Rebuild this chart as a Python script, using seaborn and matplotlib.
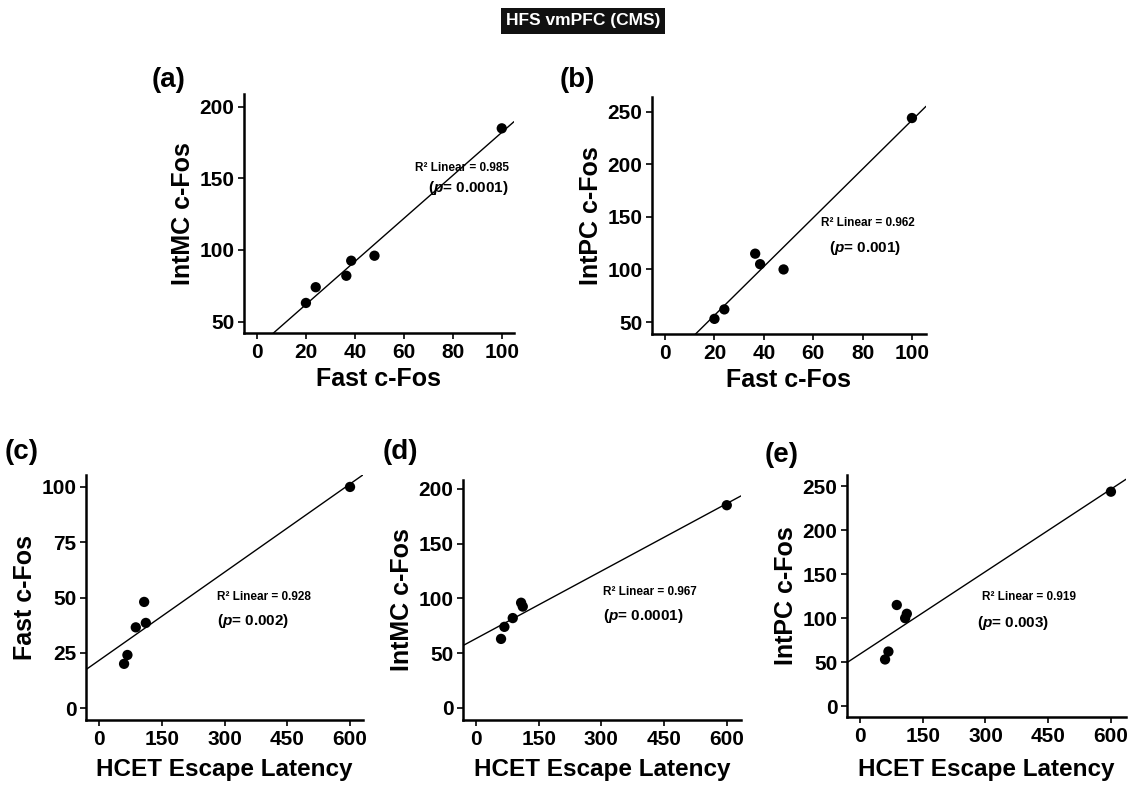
import numpy as np
import matplotlib
matplotlib.use("Agg")
import matplotlib.pyplot as plt
import seaborn as sns

# six animals, values
fast_cfos = [20, 24, 36.5, 38.5, 48, 100]
intmc_cfos = [63, 74, 82, 92.5, 96, 185]
intpc_cfos = [53, 62, 115, 105, 100, 244]
hcet_latency = [60, 68, 88, 112, 108, 600]

r2_text = ["0.985", "0.962", "0.928", "0.967", "0.919"]
p_text = ["0.0001", "0.001", "0.002", "0.0001", "0.003"]

sns.set_style("ticks")
plt.rcParams['font.family'] = ['Liberation Sans', 'DejaVu Sans']
plt.rcParams['font.weight'] = 'bold'
plt.rcParams['mathtext.fontset'] = 'custom'
plt.rcParams['mathtext.it'] = 'Liberation Sans:italic:bold'
plt.rcParams['mathtext.rm'] = 'Liberation Sans:bold'
for k in ['text.color', 'axes.labelcolor', 'xtick.color', 'ytick.color']:
    plt.rcParams[k] = 'black'

W, H = 1134, 785
fig = plt.figure(figsize=(W / 100, H / 100), dpi=100)


def make_ax(l, r, t, b):
    return fig.add_axes([l / W, 1 - b / H, (r - l) / W, (b - t) / H])


panels = [
    # label, x, y, xlabel, ylabel, box px, xlim, ylim, xticks, yticks, text pos
    ("(a)", fast_cfos, intmc_cfos, "Fast c-Fos", "IntMC c-Fos",
     (244, 514, 94, 333), (-5.3, 105), (42, 209),
     range(0, 101, 20), range(50, 201, 50), (0.633, 0.69), (0.68, 0.607), 4, 18),
    ("(b)", fast_cfos, intpc_cfos, "Fast c-Fos", "IntPC c-Fos",
     (652, 926, 97, 334), (-5.3, 105.7), (38.6, 264),
     range(0, 101, 20), range(50, 251, 50), (0.617, 0.468), (0.646, 0.363), 4, 18),
    ("(c)", hcet_latency, fast_cfos, "HCET Escape Latency", "Fast c-Fos",
     (86, 363, 475, 720), (-31, 631), (-5.4, 105.4),
     range(0, 601, 150), range(0, 101, 25), (0.473, 0.50), (0.473, 0.404), 7, 17.5),
    ("(d)", hcet_latency, intmc_cfos, "HCET Escape Latency", "IntMC c-Fos",
     (463, 741, 480, 720), (-31, 634), (-11, 208),
     range(0, 601, 150), range(0, 201, 50), (0.504, 0.533), (0.504, 0.433), 7, 17.5),
    ("(e)", hcet_latency, intpc_cfos, "HCET Escape Latency", "IntPC c-Fos",
     (847, 1126, 475, 717), (-31, 636), (-12.5, 263),
     range(0, 601, 150), range(0, 251, 50), (0.484, 0.496), (0.466, 0.388), 9, 17.5),
]

for i, (lab, x, y, xl, yl, box, xlim, ylim, xt, yt, rpos, ppos, xpad, xfs) in enumerate(panels):
    ax = make_ax(*box)
    ax.set_xlim(xlim)
    ax.set_ylim(ylim)
    sns.regplot(x=np.array(x), y=np.array(y), ax=ax, ci=None, truncate=False,
                scatter_kws=dict(s=55, color="black", edgecolor="none", alpha=1, zorder=3),
                line_kws=dict(color="black", lw=1.0))
    ax.set_xlim(xlim)
    ax.set_ylim(ylim)
    ax.set_xticks(list(xt))
    ax.set_yticks(list(yt))
    sns.despine(ax=ax)
    for s in ["left", "bottom"]:
        ax.spines[s].set_linewidth(1.8)
        ax.spines[s].set_color("black")
    ax.tick_params(axis="both", labelsize=15, length=4, width=1.2, color="black", pad=3)
    for t in ax.get_xticklabels() + ax.get_yticklabels():
        t.set_fontweight("bold")
    ax.set_xlabel(xl, fontsize=xfs, fontweight="bold", labelpad=xpad)
    ax.set_ylabel(yl, fontsize=18, fontweight="bold", labelpad=3)
    ax.text(rpos[0], rpos[1], "R² Linear = " + r2_text[i], transform=ax.transAxes,
            fontsize=8.5, fontweight="bold", ha="left", va="center")
    ax.text(ppos[0], ppos[1], r"($\mathit{p}$= " + p_text[i] + ")", transform=ax.transAxes,
            fontsize=11, fontweight="bold", ha="left", va="center")

# panel letters
for lab, px, py in [("(a)", 152, 80), ("(b)", 560, 80), ("(c)", 5, 452),
                    ("(d)", 383, 452), ("(e)", 765, 455)]:
    fig.text(px / W, 1 - py / H, lab, fontsize=20, fontweight="bold",
             ha="left", va="center")

fig.text(583 / W, 1 - 21 / H, "HFS vmPFC (CMS)", fontsize=12.5, fontweight="bold",
         color="white", ha="center", va="center",
         bbox=dict(boxstyle="square,pad=0.3", facecolor="#111111", edgecolor="none"))

fig.savefig("out.png", dpi=100)
